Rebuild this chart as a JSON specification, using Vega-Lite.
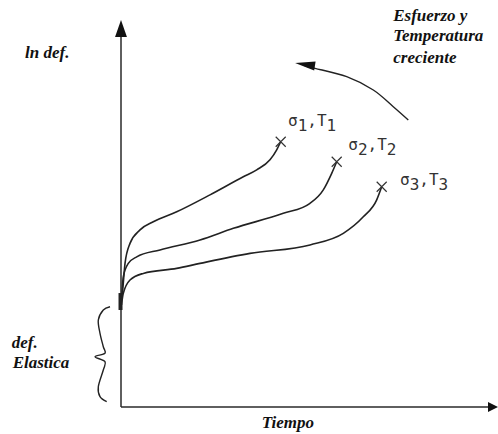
{
  "$schema": "https://vega.github.io/schema/vega-lite/v6.json",
  "autosize": "none",
  "width": 375,
  "height": 385,
  "padding": {"left": 121, "top": 22, "right": 2, "bottom": 27},
  "background": "white",
  "config": {"view": {"stroke": null}},
  "datasets": {
    "curves": [
      {"series": "1", "x": 0.13, "y": 27.8}, {"series": "1", "x": 0.45, "y": 30.4}, {"series": "1", "x": 1.07, "y": 37.3}, {"series": "1", "x": 2.4, "y": 42.5}, {"series": "1", "x": 5.07, "y": 46.0}, {"series": "1", "x": 8.61, "y": 48.1}, {"series": "1", "x": 14.85, "y": 50.7}, {"series": "1", "x": 23.73, "y": 55.1}, {"series": "1", "x": 32.61, "y": 59.8}, {"series": "1", "x": 36.19, "y": 61.6}, {"series": "1", "x": 39.73, "y": 64.2}, {"series": "1", "x": 41.52, "y": 66.8}, {"series": "1", "x": 42.59, "y": 68.9},
      {"series": "2", "x": 0.13, "y": 27.8}, {"series": "2", "x": 0.61, "y": 33.8}, {"series": "2", "x": 1.95, "y": 37.3}, {"series": "2", "x": 4.19, "y": 39.0}, {"series": "2", "x": 10.4, "y": 40.8}, {"series": "2", "x": 21.07, "y": 43.4}, {"series": "2", "x": 29.95, "y": 46.4}, {"series": "2", "x": 43.28, "y": 50.3}, {"series": "2", "x": 50.4, "y": 52.9}, {"series": "2", "x": 53.95, "y": 56.4}, {"series": "2", "x": 56.19, "y": 60.7}, {"series": "2", "x": 57.52, "y": 63.7},
      {"series": "3", "x": 0.13, "y": 26.5}, {"series": "3", "x": 0.61, "y": 29.5}, {"series": "3", "x": 2.4, "y": 33.0}, {"series": "3", "x": 5.95, "y": 34.7}, {"series": "3", "x": 14.85, "y": 36.0}, {"series": "3", "x": 21.07, "y": 37.3}, {"series": "3", "x": 34.4, "y": 39.9}, {"series": "3", "x": 50.4, "y": 42.1}, {"series": "3", "x": 59.28, "y": 45.1}, {"series": "3", "x": 64.61, "y": 49.4}, {"series": "3", "x": 68.19, "y": 53.8}, {"series": "3", "x": 69.52, "y": 57.2}
    ],
    "ends": [
      {"x": 42.59, "y": 68.9}, {"x": 57.52, "y": 63.7}, {"x": 69.52, "y": 57.2}
    ],
    "labelMain": [
      {"x": 44.53, "y": 73.0, "t": "σ"}, {"x": 49.67, "y": 73.0, "t": ",T"},
      {"x": 60.6, "y": 66.75, "t": "σ"}, {"x": 65.74, "y": 66.75, "t": ",T"},
      {"x": 74.4, "y": 57.66, "t": "σ"}, {"x": 79.54, "y": 57.66, "t": ",T"}
    ],
    "labelSub": [
      {"x": 47.1, "y": 73.0, "t": "1"}, {"x": 54.8, "y": 73.0, "t": "1"},
      {"x": 63.17, "y": 66.75, "t": "2"}, {"x": 70.87, "y": 66.75, "t": "2"},
      {"x": 76.97, "y": 57.66, "t": "3"}, {"x": 84.67, "y": 57.66, "t": "3"}
    ],
    "texts": [
      {"x": -25.6, "y": 90.65, "text": "ln def."},
      {"x": 72.6, "y": 100.26, "text": "Esfuerzo y"},
      {"x": 72.6, "y": 95.06, "text": "Temperatura"},
      {"x": 72.6, "y": 89.43, "text": "creciente"},
      {"x": -29.15, "y": 15.4, "text": "def."},
      {"x": -28.9, "y": 10.13, "text": "Elastica"},
      {"x": 37.52, "y": -5.45, "text": "Tiempo"}
    ],
    "brace": [
      {"i": 0, "x": -2.93, "y": 26.05}, {"i": 1, "x": -4.72, "y": 25.19}, {"i": 2, "x": -6.05, "y": 22.6}, {"i": 3, "x": -5.6, "y": 19.14}, {"i": 4, "x": -4.72, "y": 15.66}, {"i": 5, "x": -4.27, "y": 13.95}, {"i": 6, "x": -6.93, "y": 13.06}, {"i": 7, "x": -4.27, "y": 11.77}, {"i": 8, "x": -4.72, "y": 9.61}, {"i": 9, "x": -6.05, "y": 5.27}, {"i": 10, "x": -5.6, "y": 2.68}, {"i": 11, "x": -3.81, "y": 1.38}
    ],
    "arc": [
      {"i": 0, "x": 76.61, "y": 74.55}, {"i": 1, "x": 72.61, "y": 78.0}, {"i": 2, "x": 67.28, "y": 82.34}, {"i": 3, "x": 60.19, "y": 85.8}, {"i": 4, "x": 51.73, "y": 87.97}, {"i": 5, "x": 49.0, "y": 88.6}
    ],
    "axes": [
      {"x": 0, "y": 0, "x2": 0, "y2": 97},
      {"x": 0, "y": 0, "x2": 97.9, "y2": 0}
    ],
    "thick": [
      {"x": -0.13, "y": 25.2, "x2": -0.13, "y2": 29.6}
    ],
    "arrowY": [{"x": 0, "y": 98.3}],
    "arrowX": [{"x": 99.2, "y": 0}],
    "arrowArc": [{"x": 49.07, "y": 88.96}]
  },
  "encoding": {
    "x": {"field": "x", "type": "quantitative", "scale": {"domain": [0, 100], "nice": false, "zero": false}, "axis": null},
    "y": {"field": "y", "type": "quantitative", "scale": {"domain": [0, 100], "nice": false, "zero": false}, "axis": null}
  },
  "layer": [
    {
      "data": {"name": "axes"},
      "mark": {"type": "rule", "stroke": "#2a2a2a", "strokeWidth": 1.5},
      "encoding": {"x2": {"field": "x2"}, "y2": {"field": "y2"}}
    },
    {
      "data": {"name": "thick"},
      "mark": {"type": "rule", "stroke": "#222", "strokeWidth": 4},
      "encoding": {"x2": {"field": "x2"}, "y2": {"field": "y2"}}
    },
    {
      "data": {"name": "arrowY"},
      "mark": {"type": "point", "shape": "M0,-1L0.7,1L-0.7,1Z", "size": 289, "filled": true, "color": "#111", "opacity": 1}
    },
    {
      "data": {"name": "arrowX"},
      "mark": {"type": "point", "shape": "M1,0L-1,-1L-1,1Z", "size": 100, "filled": true, "color": "#111", "opacity": 1}
    },
    {
      "data": {"name": "curves"},
      "mark": {"type": "line", "interpolate": "monotone", "stroke": "#222", "strokeWidth": 1.6},
      "encoding": {"detail": {"field": "series"}}
    },
    {
      "data": {"name": "ends"},
      "mark": {"type": "point", "shape": "M-1,-1L1,1M-1,1L1,-1", "size": 100, "filled": false, "stroke": "#333", "strokeWidth": 1.2, "opacity": 1}
    },
    {
      "data": {"name": "brace"},
      "mark": {"type": "line", "interpolate": "cardinal", "stroke": "#222", "strokeWidth": 1.4},
      "encoding": {"order": {"field": "i", "type": "quantitative"}}
    },
    {
      "data": {"name": "arc"},
      "mark": {"type": "line", "interpolate": "cardinal", "stroke": "#222", "strokeWidth": 1.4},
      "encoding": {"order": {"field": "i", "type": "quantitative"}}
    },
    {
      "data": {"name": "arrowArc"},
      "mark": {"type": "point", "shape": "M-1,0L1,-0.45L1,0.45Z", "size": 400, "angle": 9, "filled": true, "color": "#111", "opacity": 1}
    },
    {
      "data": {"name": "labelMain"},
      "mark": {"type": "text", "font": "DejaVu Sans Mono", "fontSize": 16, "align": "left", "baseline": "alphabetic", "color": "#333"},
      "encoding": {"text": {"field": "t"}}
    },
    {
      "data": {"name": "labelSub"},
      "mark": {"type": "text", "font": "DejaVu Sans Mono", "fontSize": 16, "align": "left", "baseline": "alphabetic", "dy": 5, "color": "#333"},
      "encoding": {"text": {"field": "t"}}
    },
    {
      "data": {"name": "texts"},
      "mark": {"type": "text", "font": "Liberation Serif", "fontSize": 17, "fontStyle": "italic", "fontWeight": "bold", "align": "left", "baseline": "alphabetic", "color": "#111"},
      "encoding": {"text": {"field": "text"}}
    }
  ]
}
